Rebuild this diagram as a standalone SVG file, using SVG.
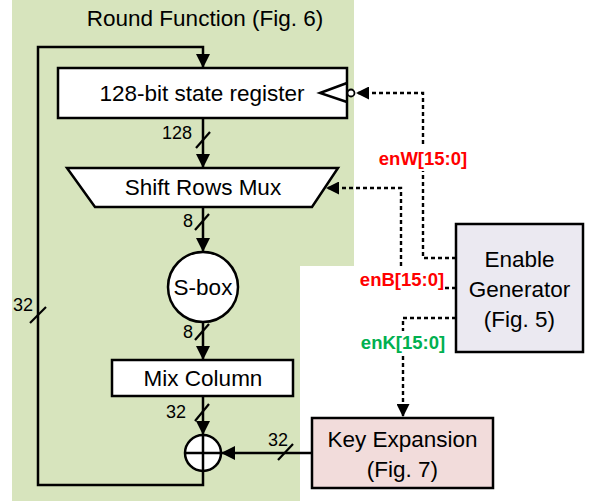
<svg xmlns="http://www.w3.org/2000/svg" width="595" height="503" viewBox="0 0 595 503">
<style>
text{font-family:"Liberation Sans",Arial,sans-serif;fill:#000}
.t{font-size:22.5px;text-anchor:middle}
.n{font-size:18px}
.lab{font-size:18.5px;font-weight:bold;text-anchor:middle}
.box{stroke:#000;stroke-width:2.5}
.w{fill:#fff}
.ln{fill:none;stroke:#000;stroke-width:2.5}
.sl{stroke:#000;stroke-width:2.2}
.dot{fill:none;stroke:#000;stroke-width:2.4;stroke-dasharray:4 3}
</style>
<defs>
<marker id="ah" viewBox="0 0 14 14" refX="14" refY="7" markerWidth="14" markerHeight="14" markerUnits="userSpaceOnUse" orient="auto">
<path d="M0,0 L14,7 L0,14 z" fill="#000"/>
</marker>
<marker id="ahs" viewBox="0 0 13 13" refX="13" refY="6.5" markerWidth="13" markerHeight="13" markerUnits="userSpaceOnUse" orient="auto">
<path d="M0,0 L13,6.5 L0,13 z" fill="#000"/>
</marker>
</defs>
<polygon points="12,0 354,0 354,266 300,266 300,501 12,501" fill="#d7e4bd"/>
<text x="205" y="26" class="t" id="title">Round Function (Fig. 6)</text>

<g id="connectors">
<path class="ln" d="M203,471 V485 H38 V47 H203 V68" marker-end="url(#ah)"/>
<path class="ln" d="M203,118 V168" marker-end="url(#ah)"/>
<path class="ln" d="M203,207 V252" marker-end="url(#ah)"/>
<path class="ln" d="M203,322 V360" marker-end="url(#ah)"/>
<path class="ln" d="M203,396 V435" marker-end="url(#ah)"/>
<path class="ln" d="M312,453 H221" marker-end="url(#ah)"/>
<line class="sl" x1="196" y1="148" x2="210" y2="132"/>
<line class="sl" x1="195" y1="230" x2="209" y2="214"/>
<line class="sl" x1="195" y1="340" x2="209" y2="324"/>
<line class="sl" x1="195" y1="421" x2="209" y2="404"/>
<line class="sl" x1="278" y1="460" x2="293" y2="444"/>
<line class="sl" x1="30" y1="323" x2="46" y2="307"/>
<text x="162" y="139" class="n">128</text>
<text x="183" y="227" class="n">8</text>
<text x="183" y="338" class="n">8</text>
<text x="166" y="418" class="n">32</text>
<text x="268" y="446" class="n">32</text>
<text x="13" y="311" class="n">32</text>
<path class="dot" d="M456,258 H423 V93 H356" marker-end="url(#ahs)"/>
<path class="dot" d="M456,288 H401 V188 H326" marker-end="url(#ahs)"/>
<path class="dot" d="M456,318 H403 V417" marker-end="url(#ahs)"/>
<rect x="377" y="145" width="94" height="26" fill="#fff"/>
<text x="423" y="165" class="lab" style="fill:#ff0000">enW[15:0]</text>
<rect x="359" y="267" width="86" height="27" fill="#fff"/>
<text x="402" y="286" class="lab" style="fill:#ff0000">enB[15:0]</text>
<rect x="360" y="331" width="88" height="23" fill="#fff"/>
<text x="403" y="349" class="lab" style="fill:#00b050">enK[15:0]</text>
</g>

<g id="register">
<rect x="58" y="68" width="289" height="50" class="box w"/>
<polyline points="347,83 320,93 347,102" class="ln"/>
<circle cx="351" cy="93" r="3.5" fill="#fff" stroke="#000" stroke-width="1.8"/>
<text x="202" y="101" class="t">128-bit state register</text>
</g>
<g id="shiftrows">
<polygon points="67,168 338,168 312,207 95,207" class="box w"/>
<text x="203" y="195" class="t">Shift Rows Mux</text>
</g>
<g id="sbox">
<circle cx="203" cy="287" r="35" class="box w"/>
<text x="203" y="295" class="t">S-box</text>
</g>
<g id="mixcolumn">
<rect x="112" y="360" width="181" height="36" class="box w"/>
<text x="203" y="386" class="t">Mix Column</text>
</g>
<g id="xor">
<circle cx="203" cy="453" r="18" class="box w"/>
<path class="ln" d="M185,453 H221 M203,435 V471"/>
</g>
<g id="enable">
<rect x="456" y="224" width="127" height="128" class="box" fill="#ebe9f1"/>
<text x="519.5" y="267" class="t">Enable</text>
<text x="519.5" y="297" class="t">Generator</text>
<text x="519.5" y="327" class="t">(Fig. 5)</text>
</g>
<g id="keyexp">
<rect x="312" y="418" width="181" height="70" class="box" fill="#f2dcdb"/>
<text x="402.5" y="447" class="t">Key Expansion</text>
<text x="402.5" y="477" class="t">(Fig. 7)</text>
</g>
</svg>
